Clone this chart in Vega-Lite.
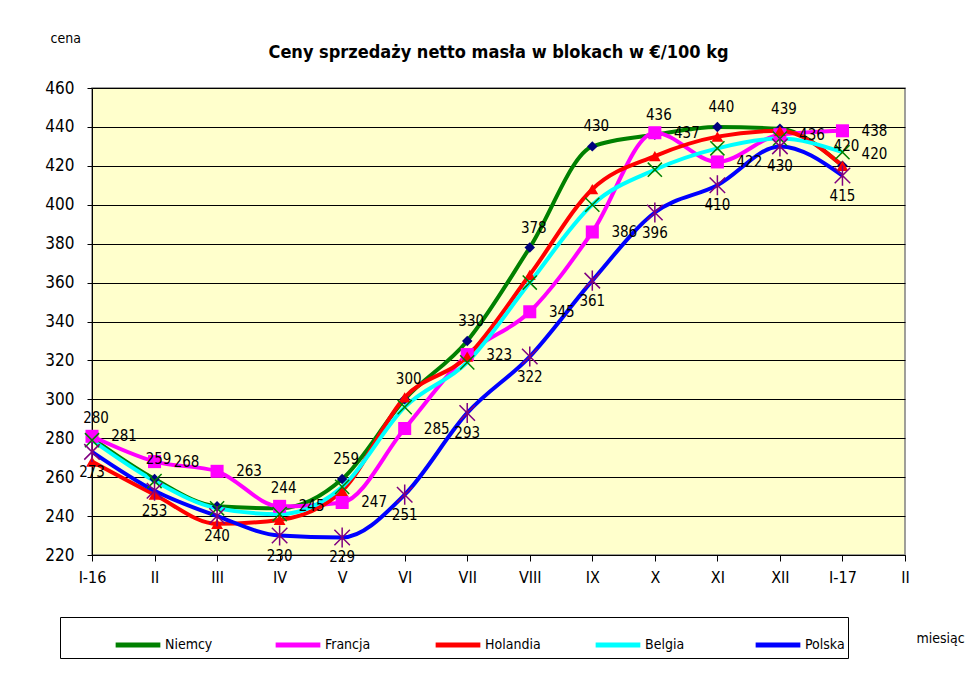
{
  "$schema": "https://vega.github.io/schema/vega-lite/v6.json",
  "width": 813,
  "height": 467,
  "autosize": {"type": "none"},
  "padding": {"left": 92, "top": 88, "right": 66, "bottom": 120},
  "background": "white",
  "title": {"text": "Ceny sprzedaży netto masła w blokach w €/100 kg", "font": "Liberation Sans Narrow, DejaVu Sans Condensed, Liberation Sans", "fontSize": 18, "fontWeight": "bold", "color": "black", "anchor": "middle", "frame": "group", "offset": -31},
  "config": {"view": {"fill": "#FFFFCC", "stroke": "#808080", "strokeWidth": 1.5}, "font": "Liberation Sans Narrow, DejaVu Sans Condensed, Liberation Sans"},
  "data": {"values": [
    {"m": "I-16", "s": "Niemcy", "v": 280}, {"m": "II", "s": "Niemcy", "v": 259}, {"m": "III", "s": "Niemcy", "v": 245}, {"m": "IV", "s": "Niemcy", "v": 244}, {"m": "V", "s": "Niemcy", "v": 259}, {"m": "VI", "s": "Niemcy", "v": 300}, {"m": "VII", "s": "Niemcy", "v": 330}, {"m": "VIII", "s": "Niemcy", "v": 378}, {"m": "IX", "s": "Niemcy", "v": 430}, {"m": "X", "s": "Niemcy", "v": 436}, {"m": "XI", "s": "Niemcy", "v": 440}, {"m": "XII", "s": "Niemcy", "v": 439}, {"m": "I-17", "s": "Niemcy", "v": 420},
    {"m": "I-16", "s": "Francja", "v": 281}, {"m": "II", "s": "Francja", "v": 268}, {"m": "III", "s": "Francja", "v": 263}, {"m": "IV", "s": "Francja", "v": 245}, {"m": "V", "s": "Francja", "v": 247}, {"m": "VI", "s": "Francja", "v": 285}, {"m": "VII", "s": "Francja", "v": 323}, {"m": "VIII", "s": "Francja", "v": 345}, {"m": "IX", "s": "Francja", "v": 386}, {"m": "X", "s": "Francja", "v": 437}, {"m": "XI", "s": "Francja", "v": 422}, {"m": "XII", "s": "Francja", "v": 436}, {"m": "I-17", "s": "Francja", "v": 438},
    {"m": "I-16", "s": "Holandia", "v": 268}, {"m": "II", "s": "Holandia", "v": 251}, {"m": "III", "s": "Holandia", "v": 236}, {"m": "IV", "s": "Holandia", "v": 238}, {"m": "V", "s": "Holandia", "v": 253}, {"m": "VI", "s": "Holandia", "v": 301}, {"m": "VII", "s": "Holandia", "v": 322}, {"m": "VIII", "s": "Holandia", "v": 364}, {"m": "IX", "s": "Holandia", "v": 408}, {"m": "X", "s": "Holandia", "v": 425}, {"m": "XI", "s": "Holandia", "v": 435}, {"m": "XII", "s": "Holandia", "v": 438}, {"m": "I-17", "s": "Holandia", "v": 420},
    {"m": "I-16", "s": "Belgia", "v": 279}, {"m": "II", "s": "Belgia", "v": 258}, {"m": "III", "s": "Belgia", "v": 244}, {"m": "IV", "s": "Belgia", "v": 241}, {"m": "V", "s": "Belgia", "v": 255}, {"m": "VI", "s": "Belgia", "v": 296}, {"m": "VII", "s": "Belgia", "v": 319}, {"m": "VIII", "s": "Belgia", "v": 360}, {"m": "IX", "s": "Belgia", "v": 400}, {"m": "X", "s": "Belgia", "v": 418}, {"m": "XI", "s": "Belgia", "v": 429}, {"m": "XII", "s": "Belgia", "v": 434}, {"m": "I-17", "s": "Belgia", "v": 427},
    {"m": "I-16", "s": "Polska", "v": 273}, {"m": "II", "s": "Polska", "v": 253}, {"m": "III", "s": "Polska", "v": 240}, {"m": "IV", "s": "Polska", "v": 230}, {"m": "V", "s": "Polska", "v": 229}, {"m": "VI", "s": "Polska", "v": 251}, {"m": "VII", "s": "Polska", "v": 293}, {"m": "VIII", "s": "Polska", "v": 322}, {"m": "IX", "s": "Polska", "v": 361}, {"m": "X", "s": "Polska", "v": 396}, {"m": "XI", "s": "Polska", "v": 410}, {"m": "XII", "s": "Polska", "v": 430}, {"m": "I-17", "s": "Polska", "v": 415}
  ]},
  "encoding": {
    "x": {"field": "m", "type": "ordinal", "sort": null,
      "scale": {"type": "point", "padding": 0, "domain": ["I-16", "II", "III", "IV", "V", "VI", "VII", "VIII", "IX", "X", "XI", "XII", "I-17", "II-17"]},
      "axis": {"title": "miesiąc", "titleX": 824, "titleY": 83, "titleAlign": "left", "titleBaseline": "middle", "titleFontWeight": "normal", "titleFontSize": 14, "titleColor": "black", "labelAngle": 0, "labelFontSize": 16, "labelColor": "black", "tickColor": "black", "domainColor": "black", "tickSize": 6, "labelPadding": 8, "grid": false, "labelExpr": "datum.value == 'II-17' ? 'II' : datum.value"}},
    "y": {"field": "v", "type": "quantitative",
      "scale": {"domain": [220, 460], "nice": false, "zero": false},
      "axis": {"values": [220, 240, 260, 280, 300, 320, 340, 360, 380, 400, 420, 440, 460], "grid": true, "gridColor": "black", "gridWidth": 1, "gridOpacity": 1, "domainColor": "black", "tickColor": "black", "tickSize": 5, "labelFontSize": 17, "labelColor": "black", "labelPadding": 13, "title": "cena", "titleAngle": 0, "titleX": -42, "titleY": -50, "titleAlign": "left", "titleBaseline": "middle", "titleFontSize": 14, "titleFontWeight": "normal", "titleColor": "black"}}
  },
  "layer": [
    {"mark": {"type": "line", "interpolate": "monotone", "strokeWidth": 4},
     "encoding": {"color": {"field": "s", "type": "nominal",
       "scale": {"domain": ["Niemcy", "Francja", "Holandia", "Belgia", "Polska"], "range": ["#008000", "#FF00FF", "#FF0000", "#00FFFF", "#0000FF"]},
       "legend": {"orient": "none", "legendX": -32, "legendY": 529, "direction": "horizontal", "columns": 5, "gridAlign": "all", "columnPadding": 44, "symbolType": "stroke", "symbolStrokeWidth": 5, "symbolSize": 2000, "labelFontSize": 14, "labelColor": "black", "labelOffset": 2, "strokeColor": "black", "fillColor": "white", "padding": 3, "title": "\u00a0", "titleOrient": "left", "titlePadding": 50, "titleFontSize": 12}}}},
    {"transform": [{"filter": "datum.s == 'Niemcy'"}], "mark": {"type": "point", "shape": "diamond", "filled": true, "size": 110, "color": "#000080", "opacity": 1}},
    {"transform": [{"filter": "datum.s == 'Francja'"}], "mark": {"type": "point", "shape": "square", "filled": true, "size": 170, "color": "#FF00FF", "opacity": 1}},
    {"transform": [{"filter": "datum.s == 'Holandia'"}], "mark": {"type": "point", "shape": "triangle-up", "filled": true, "size": 140, "color": "#FF0000", "opacity": 1}},
    {"transform": [{"filter": "datum.s == 'Belgia'"}], "mark": {"type": "point", "shape": "M-1,-1L1,1M-1,1L1,-1", "filled": false, "size": 200, "stroke": "#008000", "strokeWidth": 1.5, "opacity": 1}},
    {"transform": [{"filter": "datum.s == 'Polska'"}], "mark": {"type": "point", "shape": "M-1,-1L1,1M-1,1L1,-1M0,-1.3L0,1.3", "filled": false, "size": 240, "stroke": "#800080", "strokeWidth": 1.5, "opacity": 1}},
    {"transform": [{"filter": "datum.s == 'Niemcy' && datum.m != 'III'"}], "mark": {"type": "text", "fontSize": 15, "color": "black", "dy": -20, "dx": 4},
     "encoding": {"text": {"field": "v", "type": "quantitative"}}},
    {"transform": [{"filter": "datum.s == 'Francja'"}], "mark": {"type": "text", "fontSize": 15, "color": "black", "dx": 32, "dy": 0},
     "encoding": {"text": {"field": "v", "type": "quantitative"}}},
    {"transform": [{"filter": "datum.s == 'Polska'"}], "mark": {"type": "text", "fontSize": 15, "color": "black", "dy": 20, "dx": 0},
     "encoding": {"text": {"field": "v", "type": "quantitative"}}},
    {"transform": [{"filter": "datum.s == 'Holandia' && datum.m == 'I-17'"}], "mark": {"type": "text", "fontSize": 15, "color": "black", "dx": 32, "dy": -12},
     "encoding": {"text": {"field": "v", "type": "quantitative"}}}
  ]
}
